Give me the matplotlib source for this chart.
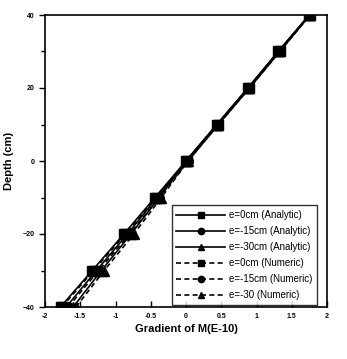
import numpy as np
import matplotlib
matplotlib.use("Agg")
from matplotlib import pyplot as plt

plt.rcParams['font.family'] = ['Liberation Sans', 'DejaVu Sans']

depth = [-40, -30, -20, -10, 0, 10, 20, 30, 40]

# analytic solutions
grad_e0_an = [-1.78, -1.33, -0.88, -0.44, 0.0, 0.44, 0.88, 1.31, 1.75]
grad_e15_an = [-1.70, -1.27, -0.83, -0.41, 0.0, 0.44, 0.88, 1.31, 1.75]
grad_e30_an = [-1.60, -1.20, -0.78, -0.38, 0.0, 0.44, 0.88, 1.31, 1.75]
# numeric solutions
grad_e0_num = [-1.76, -1.31, -0.86, -0.42, 0.02, 0.46, 0.90, 1.33, 1.76]
grad_e15_num = [-1.67, -1.24, -0.80, -0.38, 0.03, 0.46, 0.90, 1.33, 1.76]
grad_e30_num = [-1.56, -1.16, -0.74, -0.35, 0.03, 0.46, 0.90, 1.33, 1.76]

labels = ["e=0cm (Analytic)", "e=-15cm (Analytic)", "e=-30cm (Analytic)",
          "e=0cm (Numeric)", "e=-15cm (Numeric)", "e=-30 (Numeric)"]

fig = plt.figure(figsize=(3.47, 3.59), dpi=100)
axs = fig.add_axes([45 / 347, 1 - 307 / 359, 282 / 347, 292 / 359])

series = [grad_e0_an, grad_e15_an, grad_e30_an,
          grad_e0_num, grad_e15_num, grad_e30_num]
markers = ["s", "o", "^", "s", "o", "^"]
styles = ["-", "-", "-", "--", "--", "--"]
for vals, mk, ls, lab in zip(series, markers, styles, labels):
    axs.plot(vals, depth, color="black", linestyle=ls, linewidth=1.2,
             marker=mk, markersize=7, label=lab,
             dashes=(3, 2) if ls == "--" else (None, None))

axs.set_xlim(-2, 2)
axs.set_ylim(-40, 40)
axs.set_xticks(np.arange(-2, 2.01, 0.5))
axs.set_xticklabels(["-2", "-1.5", "-1", "-0.5", "0", "0.5", "1", "1.5", "2"])
axs.set_yticks([-40, -20, 0, 20, 40])
axs.set_yticks([-30, -10, 10, 30], minor=True)
axs.tick_params(axis="x", direction="in", labelsize=5, length=4, width=1, pad=4)
axs.tick_params(axis="y", direction="out", labelsize=5, length=4, width=1)
axs.tick_params(axis="y", which="minor", direction="out", length=3, width=1)
for lab in axs.get_xticklabels() + axs.get_yticklabels():
    lab.set_fontweight("bold")
for sp in axs.spines.values():
    sp.set_linewidth(1.2)

axs.set_xlabel("Gradient of M(E-10)", fontsize=8, fontweight="bold", labelpad=3)
axs.set_ylabel("Depth (cm)", fontsize=8, fontweight="bold", labelpad=6)

leg = axs.legend(loc="lower right", bbox_to_anchor=(0.965, 0.007),
                 fontsize=7, frameon=True, fancybox=False,
                 edgecolor="black", handlelength=5.0, borderaxespad=0.0,
                 labelspacing=0.62, handletextpad=0.4, markerscale=0.65,
                 borderpad=0.5)
leg.get_frame().set_linewidth(1.0)

plt.savefig("out.png", dpi=100)
plt.close()
